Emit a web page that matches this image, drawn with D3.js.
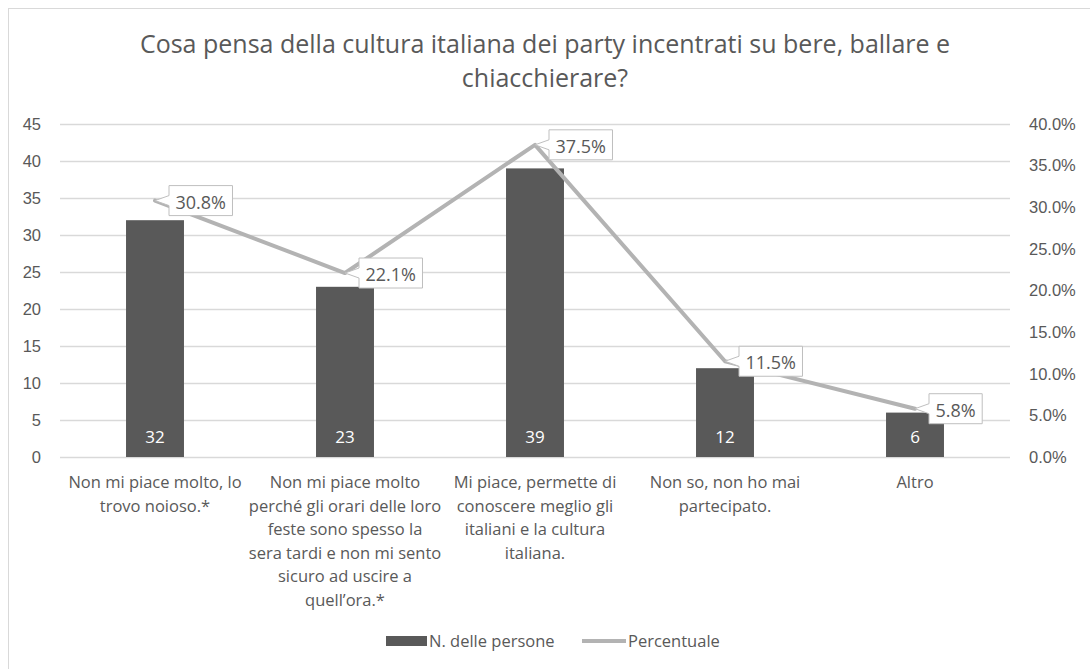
<!DOCTYPE html>
<html>
<head>
<meta charset="utf-8">
<script src="https://cdn.jsdelivr.net/npm/d3@7"></script>
<style>
  html, body { margin: 0; padding: 0; background: #ffffff; }
  svg { display: block; font-family: "Open Sans", "Noto Sans", sans-serif; }
</style>
</head>
<body>
<svg id="chart" width="1090" height="669"></svg>
<script>
const titleLines = ["Cosa pensa della cultura italiana dei party incentrati su bere, ballare e", "chiacchierare?"];
const categories = ["c1", "c2", "c3", "c4", "c5"];
const categoryLabels = [
  ["Non mi piace molto, lo", "trovo noioso.*"],
  ["Non mi piace molto", "perché gli orari delle loro", "feste sono spesso la", "sera tardi e non mi sento", "sicuro ad uscire a", "quell’ora.*"],
  ["Mi piace, permette di", "conoscere meglio gli", "italiani e la cultura", "italiana."],
  ["Non so, non ho mai", "partecipato."],
  ["Altro"]
];
const counts = [32, 23, 39, 12, 6];
const percents = [0.308, 0.221, 0.375, 0.115, 0.058];
const leftTicks = [0, 5, 10, 15, 20, 25, 30, 35, 40, 45];
const rightTicks = [0, 0.05, 0.10, 0.15, 0.20, 0.25, 0.30, 0.35, 0.40];
const seriesNames = ["N. delle persone", "Percentuale"];

const textColor = "#595959";
const barColor = "#595959";
const lineColor = "#b3b3b3";
const gridColor = "#d9d9d9";

const svg = d3.select("#chart");

// outer border
svg.append("rect").attr("x", 8.5).attr("y", 8.5).attr("width", 1100).attr("height", 700)
  .attr("fill", "none").attr("stroke", "#d9d9d9").attr("stroke-width", 1);

const plotLeft = 60, plotRight = 1010, plotTop = 124, plotBottom = 457;

const x = d3.scaleBand().domain(categories).range([plotLeft, plotRight])
  .paddingInner(0.695).paddingOuter(0.3475);
const yL = d3.scaleLinear().domain([0, 45]).range([plotBottom, plotTop]);
const yR = d3.scaleLinear().domain([0, 0.40]).range([plotBottom, plotTop]);

// title
const title = svg.append("text").attr("text-anchor", "middle").attr("fill", textColor)
  .style("font-size", "25px");
titleLines.forEach((t, i) => {
  title.append("tspan").attr("x", 545).attr("y", 53 + i * 34).text(t);
});

// gridlines
svg.append("g").selectAll("line").data(leftTicks).join("line")
  .attr("x1", plotLeft).attr("x2", plotRight)
  .attr("y1", d => Math.round(yL(d)) + 0.5).attr("y2", d => Math.round(yL(d)) + 0.5)
  .attr("stroke", gridColor).attr("stroke-width", 1.5);

// left axis
const axL = svg.append("g").attr("transform", `translate(${plotLeft - 19},0)`)
  .call(d3.axisLeft(yL).tickValues(leftTicks).tickSize(0).tickPadding(0).tickFormat(d3.format("d")));
axL.select(".domain").remove();
axL.selectAll("text").attr("fill", textColor).style("font-size", "16.5px").style("font-family", "inherit");

// right axis
const axR = svg.append("g").attr("transform", `translate(${plotRight + 19},0)`)
  .call(d3.axisRight(yR).tickValues(rightTicks).tickSize(0).tickPadding(0).tickFormat(d3.format(".1%")));
axR.select(".domain").remove();
axR.selectAll("text").attr("fill", textColor).style("font-size", "16.5px").style("font-family", "inherit");

// bars
svg.append("g").selectAll("rect").data(categories).join("rect")
  .attr("x", d => x(d)).attr("width", x.bandwidth())
  .attr("y", (d, i) => yL(counts[i])).attr("height", (d, i) => yL(0) - yL(counts[i]))
  .attr("fill", barColor);

// bar value labels
svg.append("g").selectAll("text").data(categories).join("text")
  .attr("x", d => x(d) + x.bandwidth() / 2).attr("y", yL(0) - 14)
  .attr("text-anchor", "middle").attr("fill", "#ffffff").style("font-size", "17px")
  .text((d, i) => counts[i]);

// line
const cx = d => x(d) + x.bandwidth() / 2;
const line = d3.line().x(d => cx(d)).y((d, i) => yR(percents[i]));
svg.append("path").datum(categories).attr("d", line)
  .attr("fill", "none").attr("stroke", lineColor).attr("stroke-width", 4)
  .attr("stroke-linejoin", "round").attr("stroke-linecap", "round");

// data label callouts
const lblG = svg.append("g");
categories.forEach((c, i) => {
  const px = cx(c), py = yR(percents[i]);
  const g = lblG.append("g");
  const txt = g.append("text").attr("fill", textColor).style("font-size", "18px")
    .attr("dominant-baseline", "central").text(d3.format(".1%")(percents[i]));
  const tw = txt.node().getComputedTextLength();
  const bx = px + 14, bw = tw + 13, bh = 30, by = py - bh / 2;
  const path = d3.path();
  path.moveTo(bx, by);
  path.lineTo(bx + bw, by);
  path.lineTo(bx + bw, by + bh);
  path.lineTo(bx, by + bh);
  path.lineTo(bx, py + 5);
  path.lineTo(px, py);
  path.lineTo(bx, py - 5);
  path.closePath();
  g.insert("path", "text").attr("d", path.toString()).attr("fill", "#ffffff")
    .attr("stroke", "#bfbfbf").attr("stroke-width", 1);
  txt.attr("x", bx + 6.5).attr("y", py + 1);
});

// category labels
const catG = svg.append("g");
categories.forEach((c, i) => {
  const t = catG.append("text").attr("text-anchor", "middle").attr("fill", textColor)
    .style("font-size", "16.5px");
  categoryLabels[i].forEach((ln, j) => {
    t.append("tspan").attr("x", cx(c)).attr("y", 488 + j * 23.5).text(ln);
  });
});

// legend
const leg = svg.append("g");
leg.append("rect").attr("x", 386).attr("y", 636).attr("width", 41).attr("height", 10).attr("fill", barColor);
leg.append("text").attr("x", 429).attr("y", 647).attr("fill", textColor).style("font-size", "16.5px").text(seriesNames[0]);
leg.append("line").attr("x1", 582).attr("x2", 626).attr("y1", 641).attr("y2", 641)
  .attr("stroke", lineColor).attr("stroke-width", 4);
leg.append("text").attr("x", 628).attr("y", 647).attr("fill", textColor).style("font-size", "16.5px").text(seriesNames[1]);
</script>
</body>
</html>
